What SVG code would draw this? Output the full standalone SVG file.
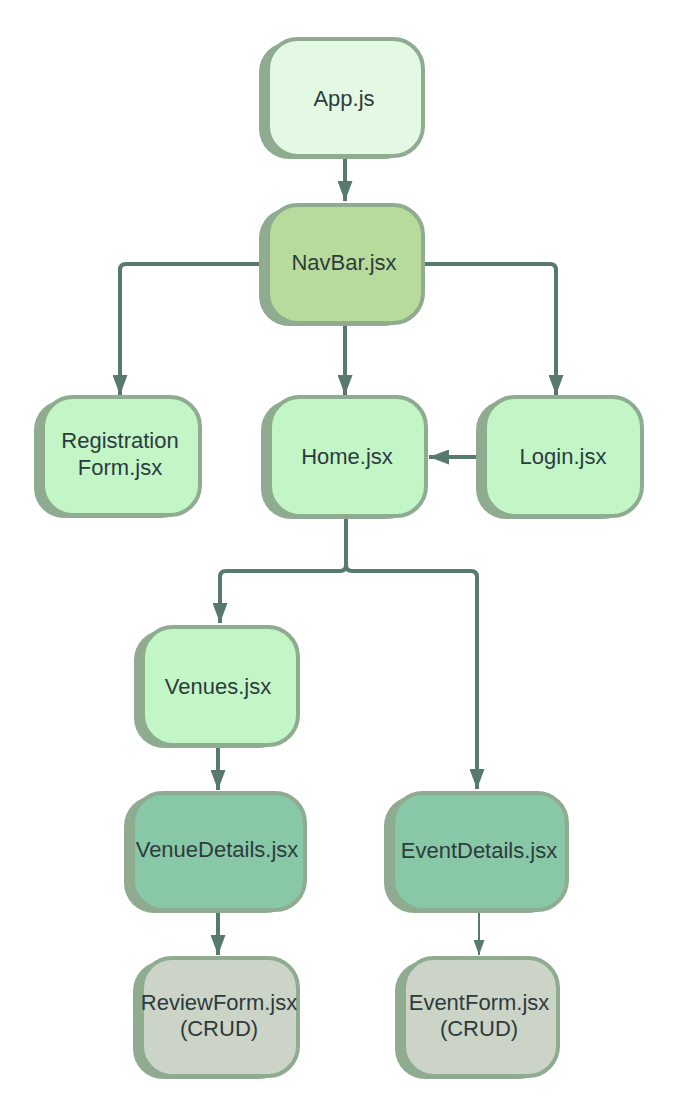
<svg xmlns="http://www.w3.org/2000/svg" width="683" height="1118" viewBox="0 0 683 1118">
<defs>
<style>
.sh{fill:#8fab90}
.bx{stroke:#8fab90;stroke-width:4}
.c1{fill:#e3f9e3}
.c2{fill:#b8db9b}
.c3{fill:#c3f6c7}
.c4{fill:#88c8a6}
.c5{fill:#cbd4c7}
text{font-family:"Liberation Sans",Arial,sans-serif;font-size:22px;fill:#2d3b3e;text-anchor:middle}
.ln{fill:none;stroke:#587a6d;stroke-width:4}
.thin{fill:none;stroke:#587a6d;stroke-width:2}
</style>
<marker id="ar" viewBox="0 0 20 15" refX="20" refY="7.5" markerWidth="20" markerHeight="15" markerUnits="userSpaceOnUse" orient="auto">
<path d="M0,0 L20,7.5 L0,15 Z" fill="#587a6d"/>
</marker>
<marker id="ars" viewBox="0 0 15 11" refX="15" refY="5.5" markerWidth="15" markerHeight="11" markerUnits="userSpaceOnUse" orient="auto">
<path d="M0,0 L15,5.5 L0,11 Z" fill="#587a6d"/>
</marker>
</defs>
<rect width="683" height="1118" fill="#ffffff"/>
<g id="connectors">
<path class="ln" d="M345,159 V201" marker-end="url(#ar)"/>
<path class="ln" d="M266,264 H126 Q120,264 120,270 V395" marker-end="url(#ar)"/>
<path class="ln" d="M345,325 V395" marker-end="url(#ar)"/>
<path class="ln" d="M425,264 H550 Q556,264 556,270 V395" marker-end="url(#ar)"/>
<path class="ln" d="M483,457 H429" marker-end="url(#ar)"/>
<path class="ln" d="M346,518 V565 Q346,571 340,571 H226 Q220,571 220,577 V623" marker-end="url(#ar)"/>
<path class="ln" d="M346,565 Q346,571 352,571 H471 Q477,571 477,577 V789" marker-end="url(#ar)"/>
<path class="ln" d="M218,747 V790" marker-end="url(#ar)"/>
<path class="ln" d="M218,912 V955" marker-end="url(#ar)"/>
<path class="thin" d="M479,912 V955" marker-end="url(#ars)"/>
</g>
<g id="app">
<rect class="sh" x="259" y="42" width="155" height="117" rx="30"/>
<rect class="bx c1" x="268" y="39" width="155" height="117" rx="30"/>
<text x="344" y="106">App.js</text>
</g>
<g id="navbar">
<rect class="sh" x="259" y="208" width="155" height="118" rx="30"/>
<rect class="bx c2" x="268" y="205" width="155" height="118" rx="30"/>
<text x="344" y="270">NavBar.jsx</text>
</g>
<g id="registration">
<rect class="sh" x="34" y="400" width="157" height="118" rx="30"/>
<rect class="bx c3" x="43" y="397" width="157" height="118" rx="30"/>
<text x="120" y="448">Registration</text>
<text x="120" y="475">Form.jsx</text>
</g>
<g id="home">
<rect class="sh" x="261" y="400" width="156" height="119" rx="30"/>
<rect class="bx c3" x="270" y="397" width="156" height="119" rx="30"/>
<text x="347" y="464">Home.jsx</text>
</g>
<g id="login">
<rect class="sh" x="476" y="400" width="157" height="119" rx="30"/>
<rect class="bx c3" x="485" y="397" width="157" height="119" rx="30"/>
<text x="563" y="464">Login.jsx</text>
</g>
<g id="venues">
<rect class="sh" x="134" y="630" width="155" height="118" rx="30"/>
<rect class="bx c3" x="143" y="627" width="155" height="118" rx="30"/>
<text x="218" y="694">Venues.jsx</text>
</g>
<g id="venuedetails">
<rect class="sh" x="124" y="796" width="172" height="117" rx="30"/>
<rect class="bx c4" x="133" y="793" width="172" height="117" rx="30"/>
<text x="217" y="857">VenueDetails.jsx</text>
</g>
<g id="eventdetails">
<rect class="sh" x="384" y="796" width="174" height="117" rx="30"/>
<rect class="bx c4" x="393" y="793" width="174" height="117" rx="30"/>
<text x="479" y="858">EventDetails.jsx</text>
</g>
<g id="reviewform">
<rect class="sh" x="133" y="961" width="156" height="118" rx="30"/>
<rect class="bx c5" x="142" y="958" width="156" height="118" rx="30"/>
<text x="219" y="1010">ReviewForm.jsx</text>
<text x="219" y="1036">(CRUD)</text>
</g>
<g id="eventform">
<rect class="sh" x="395" y="961" width="154" height="118" rx="30"/>
<rect class="bx c5" x="404" y="958" width="154" height="118" rx="30"/>
<text x="479" y="1010">EventForm.jsx</text>
<text x="479" y="1036">(CRUD)</text>
</g>
</svg>
